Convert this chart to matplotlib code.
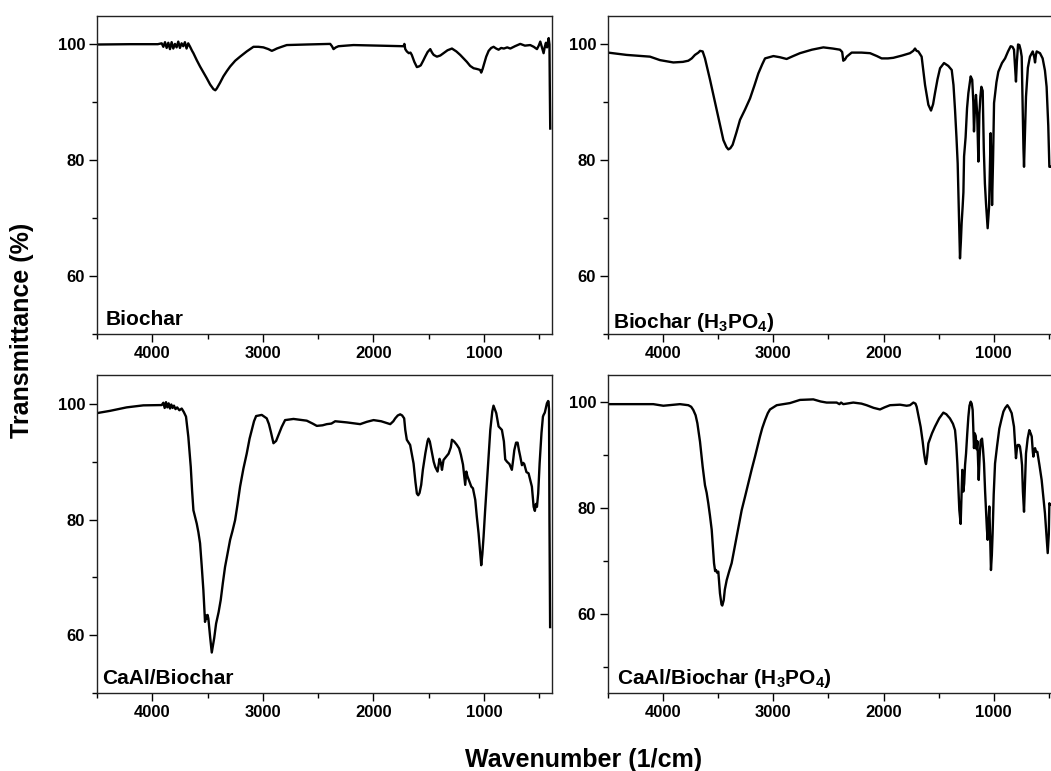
import matplotlib.pyplot as plt
from matplotlib.ticker import MultipleLocator

plt.rcParams['font.family'] = 'Liberation Sans'
plt.rcParams['font.weight'] = 'bold'
plt.rcParams['mathtext.fontset'] = 'custom'
plt.rcParams['mathtext.rm'] = 'Liberation Sans:bold'
plt.rcParams['mathtext.default'] = 'regular'

# FTIR spectra: wavenumber (1/cm) and transmittance (%) for each sample
biochar_wn = [
    4500, 4470, 4200, 3950, 3915, 3900, 3885, 3870, 3855, 3840, 3825, 3810, 3795, 3780,
    3765, 3750, 3735, 3720, 3705, 3690, 3675, 3658, 3640, 3628, 3598, 3568, 3538, 3508,
    3477, 3447, 3430, 3417, 3387, 3357, 3326, 3296, 3250, 3206, 3146, 3085, 3040, 2995,
    2950, 2919, 2895, 2874, 2830, 2784, 2600, 2391, 2375, 2361, 2340, 2316, 2250, 2180,
    1950, 1728, 1720, 1712, 1698, 1680, 1665, 1653, 1630, 1607, 1590, 1572, 1550, 1532,
    1510, 1486, 1470, 1455, 1426, 1395, 1366, 1330, 1290, 1250, 1215, 1185, 1155, 1125,
    1094, 1070, 1050, 1035, 1025, 1012, 1000, 980, 958, 935, 913, 890, 868, 845, 820,
    790, 762, 720, 672, 630, 582, 550, 521, 505, 491, 476, 461, 450, 440, 430, 415, 408,
    405, 401,
]
biochar_t = [
    100.0, 100.0, 100.05, 100.05, 100.2, 99.6, 100.4, 99.4, 100.3, 99.2, 100.4, 99.3, 100.1, 99.5,
    100.5, 99.4, 100.2, 99.7, 100.4, 99.3, 100.2, 99.6, 98.9, 98.5, 97.3, 96.2, 95.2, 94.2,
    93.1, 92.3, 92.1, 92.4, 93.4, 94.5, 95.4, 96.2, 97.2, 97.9, 98.8, 99.6, 99.6, 99.5,
    99.2, 98.9, 99.1, 99.3, 99.6, 99.9, 100.0, 100.1, 99.7, 99.2, 99.5, 99.7, 99.8, 99.9,
    99.8, 99.7, 100.1, 99.2, 98.8, 98.5, 98.6, 98.2, 97.0, 96.1, 96.2, 96.4, 97.2, 97.9,
    98.7, 99.2, 98.6, 98.2, 97.9, 98.1, 98.5, 99.0, 99.3, 98.8, 98.2, 97.6, 97.0, 96.3,
    95.9, 95.8, 95.7, 95.6, 95.15, 95.8, 96.6, 97.9, 98.9, 99.4, 99.6, 99.3, 99.1, 99.4, 99.3,
    99.5, 99.3, 99.7, 100.1, 99.8, 99.9, 99.6, 99.2, 99.8, 100.5, 99.5, 98.5, 99.6, 100.3, 99.5, 101.1, 100.0,
    93.0, 85.5,
]

biochar_p_wn = [
    4500, 4331, 4119, 4028, 3907, 3820, 3771, 3740, 3711, 3680, 3665, 3641, 3620, 3574,
    3514, 3453, 3425, 3408, 3390, 3369, 3335, 3302, 3256, 3211, 3170, 3136, 3100, 3075,
    2999, 2940, 2879, 2820, 2758, 2650, 2546, 2460, 2395, 2375, 2365, 2350, 2334, 2289,
    2200, 2122, 2060, 2017, 1960, 1911, 1830, 1760, 1730, 1714, 1700, 1684, 1654, 1623,
    1593, 1569, 1550, 1533, 1510, 1487, 1451, 1412, 1381, 1365, 1351, 1338, 1327, 1315,
    1306, 1298, 1291, 1282, 1275, 1269, 1255, 1242, 1230, 1209, 1195, 1185, 1179, 1170,
    1161, 1150, 1139, 1130, 1121, 1112, 1100, 1090, 1080, 1070, 1055, 1042, 1035, 1028,
    1020, 1015, 1006, 997, 975, 958, 925, 897, 870, 846, 830, 816, 806, 798, 790, 779,
    767, 755, 746, 738, 730, 725, 716, 707, 690, 671, 646, 632, 625, 617, 610, 580, 556,
    535, 520, 505, 495, 489,
]
biochar_p_t = [
    98.6, 98.2, 97.9, 97.3, 96.9, 97.0, 97.2, 97.6, 98.2, 98.6, 98.9, 98.8, 97.6, 93.9,
    88.7, 83.5, 82.3, 81.9, 82.1, 82.7, 84.8, 87.0, 88.8, 90.7, 93.0, 95.0, 96.6, 97.6,
    98.0, 97.8, 97.5, 98.0, 98.5, 99.1, 99.5, 99.3, 99.1, 98.7, 97.2, 97.4, 97.9, 98.6,
    98.6, 98.5, 98.0, 97.6, 97.6, 97.7, 98.1, 98.5, 98.9, 99.3, 98.9, 98.8, 97.9, 93.0,
    89.6, 88.6, 89.7, 91.6, 94.0, 95.9, 96.8, 96.3, 95.6, 93.0, 88.7, 84.0, 79.5, 70.0,
    63.1, 66.0, 69.2, 72.0, 74.5, 80.7, 84.0, 89.0, 91.6, 94.5, 93.9, 90.0, 85.0, 89.0,
    91.3, 88.0, 79.8, 88.0, 91.0, 92.7, 92.0, 82.0, 76.0, 72.6, 68.3, 72.0, 78.0, 84.7,
    78.0, 72.3, 80.0, 89.9, 93.5, 95.3, 96.8, 97.6, 98.8, 99.7, 99.6, 99.1, 96.0, 93.6, 97.0, 100.0,
    99.9, 99.0, 97.9, 90.0, 82.0, 78.9, 85.0, 91.0, 96.0, 97.9, 98.8, 97.8, 96.9, 98.2, 98.8, 98.5, 97.6,
    95.5, 92.7, 86.0, 78.9, 78.9,
]

caal_wn = [
    4500, 4473, 4382, 4232, 4081, 3915, 3900, 3888, 3876, 3864, 3852, 3840, 3828, 3816,
    3804, 3790, 3775, 3755, 3734, 3715, 3695, 3674, 3652, 3640, 3628, 3612, 3598, 3583,
    3568, 3553, 3538, 3523, 3515, 3508, 3500, 3493, 3477, 3462, 3450, 3440, 3423, 3400,
    3381, 3362, 3342, 3320, 3296, 3275, 3251, 3230, 3206, 3176, 3146, 3120, 3100, 3080,
    3061, 3010, 2965, 2945, 2928, 2904, 2880, 2859, 2830, 2799, 2723, 2603, 2550, 2512,
    2460, 2422, 2380, 2346, 2240, 2120, 2060, 1999, 1930, 1848, 1820, 1803, 1780, 1758,
    1740, 1722, 1712, 1698, 1668, 1637, 1620, 1607, 1595, 1583, 1568, 1553, 1530, 1510,
    1502, 1490, 1470, 1455, 1441, 1420, 1402, 1390, 1380, 1366, 1345, 1320, 1300, 1290,
    1270, 1245, 1225, 1209, 1190, 1170, 1160, 1150, 1130, 1115, 1100, 1079, 1065, 1049,
    1035, 1025, 1015, 1004, 990, 974, 958, 943, 925, 914, 900, 889, 868, 853, 838, 820,
    808, 792, 770, 748, 735, 726, 710, 696, 684, 672, 657, 645, 636, 616, 597, 567, 551,
    540, 530, 521, 510, 497, 480, 467, 461, 450, 431, 420, 416, 412, 408, 402,
]
caal_t = [
    98.4, 98.5, 98.8, 99.4, 99.75, 99.8, 100.2, 99.3, 100.3, 99.4, 100.1, 99.2, 99.9, 99.3,
    99.7, 99.1, 99.4, 98.9, 99.2, 98.6, 97.8, 94.3, 89.1, 85.0, 81.6, 80.4, 79.3, 77.8,
    75.9, 72.0, 67.8, 62.3, 63.4, 62.8, 63.5, 62.9, 59.7, 57.0, 58.4, 59.5, 62.0, 64.0,
    66.1, 69.0, 71.8, 74.0, 76.5, 78.0, 79.9, 82.5, 85.7, 88.8, 91.4, 94.0, 95.5, 97.0,
    97.9, 98.1, 97.5, 96.5, 95.2, 93.2, 93.6, 94.6, 96.0, 97.2, 97.4, 97.1, 96.6, 96.2,
    96.3, 96.5, 96.6, 97.0, 96.8, 96.5, 96.9, 97.2, 97.0, 96.5, 97.0, 97.5, 98.0, 98.2,
    98.0, 97.5, 95.5, 93.8, 92.9, 89.7, 86.5, 84.5, 84.2, 84.6, 86.0, 88.6, 91.5, 93.6,
    94.0, 93.5, 91.5, 90.0, 89.1, 88.3, 90.5, 89.8, 88.6, 90.3, 90.8, 91.4, 92.5, 93.8,
    93.5, 92.9, 92.3, 91.2, 89.5, 86.0, 88.3, 87.5, 86.5, 85.7, 85.4, 83.4, 80.5, 77.6,
    74.5, 72.1, 74.0, 77.0, 81.5, 86.3, 91.0, 95.5, 98.7, 99.7, 99.0, 98.4, 96.1, 95.8, 95.5, 93.5,
    90.4, 90.0, 89.6, 88.6, 90.5, 92.0, 93.3, 93.3, 92.0, 90.9, 89.4, 89.8, 89.6, 88.2, 88.0, 85.7, 82.2,
    81.5, 82.7, 82.2, 84.5, 89.7, 95.0, 97.8, 98.1, 98.5, 100.1, 100.5, 100.4, 99.0, 80.0, 61.4,
]

caal_p_wn = [
    4500, 4300, 4089, 3998, 3900, 3847, 3771, 3745, 3726, 3705, 3689, 3665, 3641, 3620,
    3605, 3590, 3575, 3559, 3548, 3538, 3528, 3520, 3510, 3499, 3484, 3470, 3463, 3450,
    3440, 3423, 3400, 3378, 3355, 3332, 3310, 3287, 3257, 3227, 3196, 3166, 3140, 3121,
    3100, 3075, 3050, 3030, 2969, 2849, 2758, 2637, 2570, 2516, 2425, 2400, 2385, 2365,
    2274, 2200, 2153, 2090, 2032, 1990, 1941, 1850, 1790, 1760, 1729, 1710, 1699, 1680,
    1663, 1645, 1632, 1620, 1614, 1605, 1593, 1560, 1533, 1495, 1457, 1430, 1397, 1370,
    1351, 1340, 1330, 1320, 1312, 1300, 1292, 1285, 1276, 1268, 1260, 1251, 1240, 1230,
    1220, 1209, 1200, 1191, 1185, 1179, 1172, 1163, 1155, 1148, 1142, 1136, 1128, 1118,
    1106, 1097, 1088, 1078, 1070, 1062, 1055, 1048, 1040, 1033, 1025, 1017, 1010, 1000,
    988, 970, 949, 930, 912, 895, 876, 860, 837, 826, 816, 806, 798, 790, 783, 770, 762,
    752, 743, 735, 725, 716, 707, 692, 677, 665, 655, 645, 640, 632, 625, 615, 604, 585,
    565, 550, 535, 522, 510, 500, 495, 489,
]
caal_p_t = [
    99.5, 99.5, 99.5, 99.2, 99.4, 99.5, 99.3, 99.0, 98.4, 97.4, 95.9, 92.4, 87.7, 84.2,
    82.8, 80.8, 78.5, 75.8, 72.5, 69.5, 68.0, 68.2, 67.7, 67.9, 63.8, 61.7, 61.5, 62.5,
    64.5, 66.3, 68.0, 69.5, 72.0, 74.5, 77.0, 79.5, 82.0, 84.6, 87.2, 89.6, 91.8, 93.4,
    95.0, 96.5, 97.8, 98.5, 99.3, 99.7, 100.3, 100.4, 100.0, 99.8, 99.8, 99.5, 99.8, 99.5,
    99.8, 99.6, 99.3, 98.8, 98.5, 98.9, 99.3, 99.4, 99.2, 99.3, 99.8, 99.6, 99.0, 97.0,
    95.2, 92.5, 90.2, 88.6, 88.2, 89.5, 92.1, 94.0, 95.25, 96.8, 97.9, 97.6, 96.8, 95.8,
    94.6, 92.0, 88.3, 83.5, 79.5, 76.9, 82.0, 87.1, 83.0, 84.5, 88.0, 90.2, 94.0, 97.1,
    99.2, 99.97, 99.6, 98.4, 95.0, 91.2, 94.0, 93.5, 91.0, 92.5, 89.0, 85.2, 89.5, 92.6,
    93.0, 91.0, 88.3, 83.0, 79.5, 76.0, 73.9, 77.0, 80.2, 75.0, 68.2, 71.0, 75.1, 82.5,
    88.3, 91.5, 94.9, 96.6, 98.1, 98.8, 99.3, 98.8, 97.8, 96.5, 95.25, 92.0, 89.3, 91.0, 91.8, 91.8, 91.5,
    90.0, 88.0, 83.0, 79.2, 85.0, 90.2, 93.0, 94.6, 94.0, 93.4, 90.5, 89.6, 90.8, 91.2, 90.5, 90.5, 88.0,
    85.2, 82.0, 78.9, 75.0, 71.4, 75.0, 80.8, 80.5,
]

labels = [
    'Biochar',
    'Biochar (H$_3$PO$_4$)',
    'CaAl/Biochar',
    'CaAl/Biochar (H$_3$PO$_4$)',
]
spectra = [
    (biochar_wn, biochar_t),
    (biochar_p_wn, biochar_p_t),
    (caal_wn, caal_t),
    (caal_p_wn, caal_p_t),
]

W, H = 1051, 771
# panel boxes in pixels: left, top, right, bottom
boxes = [(97, 15.5, 552, 334.3), (608, 15.5, 1053, 334.3),
         (97, 375, 552, 693), (608, 375, 1053, 693)]
xlims = [(4500, 385), (4500, 462), (4500, 385), (4500, 462)]
ylims = [(50, 105), (50, 105), (50, 105), (45, 105)]
label_offsets = [(8.7, 9), (5.3, 6.6), (4.7, 8.7), (8.7, 9)]

fig = plt.figure(figsize=(W / 100, H / 100), dpi=100)

for i in range(4):
    l, t, r, b = boxes[i]
    ax = fig.add_axes([l / W, 1 - b / H, (r - l) / W, (b - t) / H])
    wn, tr = spectra[i]
    ax.plot(wn, tr, color='black', lw=1.7)
    ax.set_xlim(*xlims[i])
    ax.set_ylim(*ylims[i])
    ax.xaxis.set_major_locator(MultipleLocator(1000))
    ax.xaxis.set_minor_locator(MultipleLocator(500))
    ax.yaxis.set_major_locator(MultipleLocator(20))
    ax.yaxis.set_minor_locator(MultipleLocator(10))
    ax.tick_params(which='both', direction='out', width=1.0, color='black',
                   labelsize=12, pad=3)
    ax.tick_params(which='major', length=5.5)
    ax.tick_params(which='minor', length=3.5)
    for lab in ax.get_xticklabels() + ax.get_yticklabels():
        lab.set_fontweight('bold')
    for sp in ax.spines.values():
        sp.set_linewidth(1.0)
        sp.set_color('#222222')
    ax.annotate(labels[i], xy=(0, 0), xycoords='axes fraction',
                xytext=label_offsets[i], textcoords='offset pixels',
                fontsize=15, fontweight='bold', va='baseline', ha='left')

fig.text(22 / W, 1 - 330 / H, 'Transmittance (%)', rotation=90, fontsize=18,
         fontweight='bold', ha='center', va='center')
fig.text(584 / W, 1 - 760 / H, 'Wavenumber (1/cm)', fontsize=18,
         fontweight='bold', ha='center', va='center')

fig.savefig('out.png', dpi=100)
